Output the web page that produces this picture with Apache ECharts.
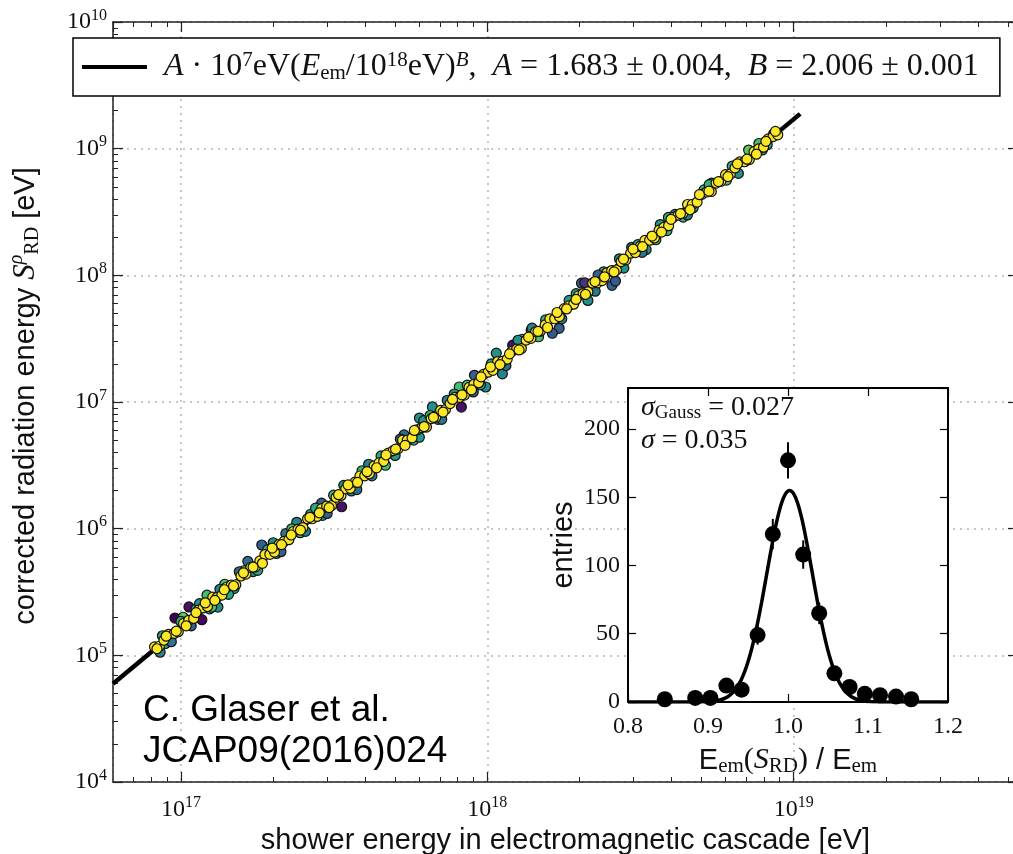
<!DOCTYPE html>
<html>
<head>
<meta charset="utf-8">
<title>Radiation energy vs. electromagnetic shower energy</title>
<script src="https://cdn.jsdelivr.net/npm/echarts@6.0.0/dist/echarts.min.js"></script>
<style>
  html, body { margin: 0; padding: 0; background: #fff; }
  #chart { width: 1013px; height: 854px; }
</style>
</head>
<body>
<div id="chart"></div>
<script>
// events that sit close to the fit (yellow), E in 1e18 eV, S in 1e7 eV
const coreE = [
  0.082, 0.085, 0.088, 0.091, 0.095, 0.098, 0.102, 0.106, 0.110, 0.114,
  0.118, 0.122, 0.127, 0.131, 0.136, 0.141, 0.146, 0.151, 0.157, 0.163,
  0.169, 0.175, 0.181, 0.188, 0.195, 0.202, 0.209, 0.217, 0.225, 0.233,
  0.241, 0.250, 0.259, 0.268, 0.278, 0.288, 0.299, 0.310, 0.321, 0.333,
  0.345, 0.357, 0.370, 0.384, 0.398, 0.412, 0.427, 0.443, 0.459, 0.475,
  0.493, 0.511, 0.529, 0.548, 0.568, 0.589, 0.611, 0.633, 0.656, 0.679,
  0.704, 0.730, 0.756, 0.784, 0.812, 0.842, 0.872, 0.904, 0.937, 0.971,
  1.006, 1.043, 1.081, 1.120, 1.161, 1.203, 1.247, 1.292, 1.339, 1.388,
  1.438, 1.490, 1.545, 1.601, 1.659, 1.719, 1.782, 1.847, 1.914, 1.983,
  2.055, 2.130, 2.207, 2.288, 2.371, 2.457, 2.546, 2.639, 2.735, 2.834,
  2.937, 3.044, 3.154, 3.269, 3.388, 3.511, 3.638, 3.770, 3.907, 4.049,
  4.196, 4.349, 4.507, 4.670, 4.840, 5.015, 5.198, 5.386, 5.582, 5.785,
  5.995, 6.212, 6.438, 6.671, 6.914, 7.165, 7.425, 7.694, 7.974, 8.263,
  8.563, 8.874,
  0.0835, 0.0895, 0.0965, 0.104, 0.112, 0.120, 0.129, 0.1385, 0.1485, 0.160,
  0.172, 0.1845, 0.1985, 0.213, 0.229, 0.2455, 0.2635, 0.283, 0.3045, 0.327,
  0.351, 0.377, 0.405, 0.435, 0.467, 0.502, 0.539, 0.578, 0.622, 0.6675,
  0.717, 0.770, 0.827, 0.888, 0.954, 1.0245, 1.1, 1.182, 1.2695, 1.3635,
  1.464, 1.573, 1.689, 1.8145, 1.9485, 2.0925, 2.2475, 2.414, 2.5925, 2.7845,
  2.9905, 3.2115, 3.4495, 3.704, 3.978, 4.2725, 4.5885, 4.9275, 5.292, 5.684,
  6.1035, 6.5545, 7.0395, 7.5595, 8.1185, 8.7185
];
const coreS = [
  0.01166, 0.01180, 0.01316, 0.01464, 0.01489, 0.01535, 0.01786, 0.01891, 0.01955, 0.02274,
  0.02366, 0.02430, 0.02878, 0.02859, 0.02988, 0.03446, 0.03587, 0.03607, 0.04231, 0.04383,
  0.04951, 0.04999, 0.05569, 0.06245, 0.06272, 0.06524, 0.07498, 0.07925, 0.08179, 0.09502,
  0.09873, 0.1020, 0.1197, 0.1197, 0.1249, 0.1438, 0.1505, 0.1520, 0.1769, 0.1829,
  0.2063, 0.2081, 0.2327, 0.2606, 0.2613, 0.2714, 0.3130, 0.3303, 0.3404, 0.3949,
  0.4131, 0.4263, 0.4993, 0.5003, 0.5213, 0.6014, 0.6283, 0.6339, 0.7388, 0.7604,
  0.8591, 0.8700, 0.9715, 1.086, 1.088, 1.134, 1.305, 1.375, 1.419, 1.650,
  1.720, 1.776, 2.085, 2.090, 2.178, 2.509, 2.617, 2.641, 3.078, 3.178,
  3.585, 3.624, 4.058, 4.530, 4.540, 4.725, 5.451, 5.741, 5.919, 6.883,
  7.179, 7.407, 8.690, 8.722, 9.083, 10.47, 10.91, 11.02, 12.84, 13.25,
  14.95, 15.13, 16.91, 18.88, 18.93, 19.71, 22.72, 23.92, 24.66, 28.70,
  29.93, 30.88, 36.24, 36.34, 37.85, 43.60, 45.47, 45.89, 53.49, 55.20,
  62.30, 63.00, 70.46, 78.64, 78.84, 82.08, 94.64, 99.63, 102.7, 119.5,
  124.6, 128.6,
  0.01127, 0.01416, 0.01552, 0.01711, 0.02175, 0.02593, 0.02717, 0.03293, 0.03526, 0.04481,
  0.04979, 0.05328, 0.07029, 0.07483, 0.08914, 0.09738, 0.1227, 0.1334, 0.1467, 0.1854,
  0.2219, 0.2320, 0.2816, 0.3025, 0.3817, 0.4241, 0.4547, 0.5960, 0.6381, 0.7574,
  0.8306, 1.048, 1.140, 1.247, 1.578, 1.890, 1.975, 2.398, 2.577, 3.254,
  3.607, 3.873, 5.089, 5.430, 6.454, 7.074, 8.926, 9.709, 10.63, 13.44,
  16.10, 16.84, 20.43, 21.94, 27.70, 30.72, 32.95, 43.32, 46.19, 54.92,
  60.19, 75.92, 82.57, 90.41, 114.3, 136.9
];

// events with a larger spread, coloured by a viridis value (0 purple .. 1 yellow)
const spreadE = [
  0.0956, 0.1062, 0.1836, 0.1653, 0.3346, 2.553, 2.62, 1.716, 0.0855, 0.1016,
  0.117, 0.1216, 0.132, 0.2388, 0.2878, 0.6005, 0.662, 0.81, 0.823, 0.908,
  0.988, 1.07, 1.12, 1.21, 1.391, 1.63, 1.4, 2.03, 2.08, 2.13,
  2.79, 2.96, 7.13, 7.5, 7.7, 6.6, 6.04, 5.4, 4.36, 3.67,
  3.3, 3.86,
  0.089, 0.112, 0.124, 0.139, 0.149, 0.16, 0.172, 0.192, 0.205, 0.22,
  0.245, 0.265, 0.29, 0.315, 0.36, 0.39, 0.42, 0.45, 0.5, 0.535,
  0.575, 0.62, 0.69, 0.74, 0.86, 0.95, 1.3, 1.47, 1.85, 2.25,
  2.4, 3.1, 3.55, 4.1, 4.7, 5.1, 8.2, 8.6,
  0.087, 0.093, 0.1, 0.108, 0.115, 0.126, 0.134, 0.143, 0.155, 0.178,
  0.2, 0.212, 0.23, 0.255, 0.275, 0.3, 0.34, 0.375, 0.41, 0.465,
  0.52, 0.6, 0.65, 0.71, 0.78, 0.9, 1.03, 1.15, 1.26, 1.55,
  1.75, 1.95, 2.3, 2.7, 3.2, 3.9, 4.5, 5.3, 6.3, 7.9
];
const spreadS = [
  0.01969, 0.02411, 0.07432, 0.05518, 0.1489, 8.337, 9.011, 3.816, 0.01058, 0.01998,
  0.01912, 0.02986, 0.02405, 0.1123, 0.1589, 0.7465, 0.9146, 1.314, 0.9120, 1.624,
  1.314, 2.428, 1.668, 2.809, 3.680, 3.488, 3.827, 8.669, 8.738, 6.338,
  11.40, 16.66, 97.54, 91.83, 109.8, 63.78, 56.49, 53.49, 28.79, 25.16,
  15.95, 22.57,
  0.01240, 0.02322, 0.02329, 0.03642, 0.03363, 0.04653, 0.04581, 0.06825, 0.06366, 0.09123,
  0.09294, 0.1300, 0.1274, 0.1837, 0.1985, 0.2867, 0.2613, 0.3749, 0.3787, 0.5492,
  0.5008, 0.7116, 0.7292, 1.032, 1.357, 1.367, 3.129, 3.273, 6.336, 7.498,
  10.66, 17.47, 19.09, 30.27, 34.20, 47.28, 107.5, 130.7,
  0.01427, 0.01281, 0.01851, 0.01708, 0.02560, 0.02405, 0.03324, 0.03029, 0.04569, 0.04693,
  0.07742, 0.06581, 0.09972, 0.09521, 0.1451, 0.1318, 0.2198, 0.2035, 0.3225, 0.3166,
  0.5097, 0.5271, 0.7822, 0.7296, 1.157, 1.200, 2.000, 1.936, 3.073, 4.448,
  4.536, 7.168, 10.06, 13.50, 15.17, 28.67, 29.99, 52.00, 72.81, 97.68
];
const spreadC = [
  0, 0.05, 0.3, 0.35, 0.05, 0.3, 0.28, 0.3, 0.45, 0.75,
  0.02, 0.7, 0.5, 0.45, 0.3, 0.5, 0.5, 0.7, 0.05, 0.3,
  0.5, 0.5, 0.45, 0.05, 0.25, 0.28, 0.45, 0.3, 0.15, 0.5,
  0.5, 0.3, 0.75, 0.55, 0.7, 0.5, 0.75, 0.2, 0.7, 0.55,
  0.5, 0.65,
  0.6, 0.65, 0.55, 0.7, 0.6, 0.75, 0.5, 0.65, 0.6, 0.4,
  0.7, 0.55, 0.6, 0.7, 0.5, 0.65, 0.4, 0.6, 0.55, 0.35,
  0.65, 0.5, 0.6, 0.45, 0.7, 0.55, 0.6, 0.7, 0.55, 0.4,
  0.65, 0.6, 0.7, 0.5, 0.6, 0.7, 0.6, 0.55,
  0.55, 0.4, 0.65, 0.3, 0.5, 0.7, 0.45, 0.6, 0.35, 0.6,
  0.5, 0.3, 0.7, 0.45, 0.6, 0.3, 0.55, 0.35, 0.45, 0.7,
  0.3, 0.55, 0.65, 0.4, 0.5, 0.3, 0.6, 0.35, 0.5, 0.65,
  0.45, 0.55, 0.3, 0.5, 0.4, 0.6, 0.45, 0.65, 0.6, 0.55
];

// fit A*1e7 eV (E/1e18 eV)^B, end points (1e18 eV / 1e7 eV)
const fitE = [0.06, 10.5];
const fitS = [0.00596, 188.2];

// inset: histogram of E_em(S_RD)/E_em
const histX = [0.846, 0.884, 0.903, 0.923, 0.942, 0.962, 0.981, 1.000, 1.019, 1.039, 1.058, 1.077, 1.096, 1.115, 1.135, 1.154];
const histY = [2, 3, 3, 12, 9, 49, 123, 177, 108, 65, 21, 11, 6, 5, 4, 2];
const histErr = [1.4, 1.7, 1.7, 3.5, 3, 7, 11.1, 13.3, 10.4, 8, 4.6, 3.3, 2.4, 2.2, 2, 1.4];
// gaussian fit curve
const gaussX = [0.8, 0.887, 0.892, 0.897, 0.902, 0.907, 0.912, 0.917, 0.922, 0.927, 0.932, 0.937,
  0.942, 0.947, 0.952, 0.957, 0.962, 0.967, 0.972, 0.977, 0.982, 0.987, 0.992, 0.997, 1.002,
  1.007, 1.012, 1.017, 1.022, 1.027, 1.032, 1.037, 1.042, 1.047, 1.052, 1.057, 1.062,
  1.067, 1.072, 1.077, 1.082, 1.087, 1.092, 1.097, 1.102, 1.107, 1.112, 1.117, 1.2];
const gaussY = [0, 0, 0.1, 0.18, 0.33, 0.6, 1.06, 1.81, 3.0, 4.86, 7.6, 11.5,
  16.9, 24.1, 33.3, 44.6, 57.9, 72.9, 89.1, 105.5, 121.2, 135.0, 145.8, 152.6, 155,
  152.6, 145.8, 135.0, 121.2, 105.5, 89.1, 72.9, 57.9, 44.6, 33.3, 24.1, 16.9,
  11.5, 7.6, 4.86, 3.0, 1.81, 1.06, 0.6, 0.33, 0.18, 0.1, 0, 0];

const viridis = ['#440154', '#482878', '#3e4989', '#31688e', '#26828e', '#1f9e89', '#35b779', '#6ece58', '#b5de2b', '#fde725'];

const xMin = 6e16, xMax = 5.4e19, yMin = 1e4, yMax = 1e10;

const chart = echarts.init(document.getElementById('chart'));

// minor tick positions 2..9 x 10^n (in log10 units)
function minorLogs(lo, hi) {
  const out = [];
  for (let d = Math.floor(lo); d <= Math.ceil(hi); d++) {
    for (let k = 2; k <= 9; k++) {
      const v = d + Math.log10(k);
      if (v > lo && v < hi) out.push(v);
    }
  }
  return out;
}

const serif = 'Liberation Serif';
const sans = 'Liberation Sans';
const ink = '#111';
const frameLine = { show: true, onZero: false, lineStyle: { color: '#222', width: 1.5 } };
const majorTick = { inside: true, length: 10, lineStyle: { color: '#222', width: 1.2 } };
const minorTick = { inside: true, length: 5, lineStyle: { color: '#222', width: 1 } };
const gridDots = { show: true, lineStyle: { color: '#b4b4b4', width: 1.5, type: [2, 5] } };
const powRich = {
  b: { fontFamily: serif, fontSize: 24, color: ink },
  s: { fontFamily: serif, fontSize: 16, color: ink, padding: [0, 0, 13, 0] }
};
const powLabel = v => '{b|10}{s|' + Math.round(Math.log10(v)) + '}';

const lx0 = Math.log10(xMin), lx1 = Math.log10(xMax), ly0 = Math.log10(yMin), ly1 = Math.log10(yMax);

// overlay axis that only carries minor ticks
function minorAxis(pos, lo, hi) {
  return {
    type: 'value', gridIndex: 0, position: pos, min: lo, max: hi,
    axisLine: { show: false, onZero: false },
    axisTick: Object.assign({ customValues: minorLogs(lo, hi) }, minorTick),
    axisLabel: { show: false }, splitLine: { show: false }
  };
}
// overlay log axis for the frame with major ticks only
function frameAxis(pos, lo, hi) {
  return {
    type: 'log', gridIndex: 0, position: pos, min: lo, max: hi,
    axisLine: frameLine, axisTick: majorTick, axisLabel: { show: false }, splitLine: { show: false }
  };
}

const insetTick = { inside: true, length: 8, lineStyle: { color: '#000', width: 1.2 } };
const insetLine = { show: true, onZero: false, lineStyle: { color: '#000', width: 2 } };

chart.setOption({
  animation: false,
  backgroundColor: '#fff',
  grid: [
    { left: 113, right: -5, top: 22, bottom: 72, outerBoundsMode: 'none', containLabel: false },
    { left: 628, top: 388, width: 320, height: 314, outerBoundsMode: 'none', containLabel: false,
      show: true, backgroundColor: '#fff', borderWidth: 0, z: 5 }
  ],
  legend: {
    data: [{ name: 'fit', icon: 'rect' }],
    left: 73, top: 38, z: 10,
    padding: [12, 21, 12, 9],
    itemWidth: 65, itemHeight: 4,
    backgroundColor: '#fff', borderColor: '#000', borderWidth: 1.5, borderRadius: 0,
    selectedMode: false,
    formatter: () => '{g| }{i|A}{r| · 10}{sp|7}{r|eV(}{i|E}{sb|em}{r|/10}{sp|18}{r|eV)}{spi|B}{r|,  }{i|A}{r| = 1.683 ± 0.004,  }{i|B}{r| = 2.006 ± 0.001}',
    textStyle: {
      rich: {
        g: { width: 12 },
        r: { fontFamily: serif, fontSize: 32, lineHeight: 34, color: ink },
        i: { fontFamily: serif, fontStyle: 'italic', fontSize: 32, lineHeight: 34, color: ink },
        sp: { fontFamily: serif, fontSize: 21, lineHeight: 21, color: ink, padding: [0, 0, 13, 0] },
        spi: { fontFamily: serif, fontStyle: 'italic', fontSize: 21, lineHeight: 21, color: ink, padding: [0, 0, 13, 0] },
        sb: { fontFamily: serif, fontSize: 21, lineHeight: 21, color: ink, padding: [13, 0, 0, 0] }
      }
    }
  },
  visualMap: {
    show: false, type: 'continuous', seriesIndex: 1, dimension: 2, min: 0, max: 1,
    inRange: { color: viridis }
  },
  xAxis: [
    {
      type: 'log', gridIndex: 0, position: 'bottom', min: xMin, max: xMax,
      axisLine: frameLine, axisTick: majorTick, splitLine: gridDots,
      axisLabel: { formatter: powLabel, rich: powRich, margin: 13, showMinLabel: false, showMaxLabel: false },
      name: 'shower energy in electromagnetic cascade [eV]', nameLocation: 'middle', nameGap: 42,
      nameTextStyle: { fontFamily: sans, fontSize: 29, color: ink }
    },
    minorAxis('bottom', lx0, lx1),
    frameAxis('top', xMin, xMax),
    minorAxis('top', lx0, lx1),
    {
      type: 'value', gridIndex: 1, position: 'bottom', min: 0.8, max: 1.2, interval: 0.1, z: 6,
      axisLine: insetLine, axisTick: insetTick, splitLine: { show: false },
      axisLabel: { formatter: v => v.toFixed(1), fontFamily: serif, fontSize: 24, color: ink, margin: 13 },
      name: '{e|E}{sb|em}{p|(}{it|S}{sb|RD}{p|)}{e| / E}{sb|em}', nameLocation: 'middle', nameGap: 42,
      nameTextStyle: {
        rich: {
          e: { fontFamily: sans, fontSize: 29, color: ink },
          p: { fontFamily: serif, fontSize: 30, color: ink },
          it: { fontFamily: serif, fontStyle: 'italic', fontSize: 30, color: ink },
          sb: { fontFamily: serif, fontSize: 21, color: ink, padding: [12, 0, 0, 0] }
        }
      }
    },
    {
      type: 'value', gridIndex: 1, position: 'top', min: 0.8, max: 1.2, interval: 0.1, z: 6,
      axisLine: insetLine, axisTick: insetTick, axisLabel: { show: false }, splitLine: { show: false }
    }
  ],
  yAxis: [
    {
      type: 'log', gridIndex: 0, position: 'left', min: yMin, max: yMax,
      axisLine: frameLine, axisTick: majorTick, splitLine: gridDots,
      axisLabel: { formatter: powLabel, rich: powRich, margin: 6 },
      name: '{t|corrected radiation energy }{s|S}{sp|ρ}{sb|RD}{t| [eV]}',
      nameLocation: 'middle', nameRotate: 90, nameGap: 68,
      nameTextStyle: {
        padding: [0, 0, 0, 12],
        rich: {
          t: { fontFamily: sans, fontSize: 29, color: ink },
          s: { fontFamily: serif, fontStyle: 'italic', fontSize: 31, color: ink },
          sp: { fontFamily: serif, fontStyle: 'italic', fontSize: 20, color: ink, padding: [0, 0, 18, 0] },
          sb: { fontFamily: serif, fontSize: 20, color: ink, padding: [14, 0, 0, 0] }
        }
      }
    },
    minorAxis('left', ly0, ly1),
    frameAxis('right', yMin, yMax),
    minorAxis('right', ly0, ly1),
    {
      type: 'value', gridIndex: 1, position: 'left', min: 0, max: 230, interval: 50, z: 6,
      axisLine: insetLine, axisTick: insetTick, splitLine: { show: false },
      axisLabel: { fontFamily: serif, fontSize: 24, color: ink, margin: 8, showMaxLabel: false },
      name: 'entries', nameLocation: 'middle', nameRotate: 90, nameGap: 50,
      nameTextStyle: { fontFamily: sans, fontSize: 29, color: ink }
    },
    {
      type: 'value', gridIndex: 1, position: 'right', min: 0, max: 230, interval: 50, z: 6,
      axisLine: insetLine, axisTick: insetTick, axisLabel: { show: false }, splitLine: { show: false }
    }
  ],
  series: [
    {
      name: 'fit', type: 'line', xAxisIndex: 0, yAxisIndex: 0,
      data: fitE.map((e, i) => [e * 1e18, fitS[i] * 1e7]),
      symbol: 'none', color: '#000', lineStyle: { color: '#000', width: 4.5 }, z: 2
    },
    {
      name: 'spread', type: 'scatter', xAxisIndex: 0, yAxisIndex: 0,
      data: spreadE.map((e, i) => [e * 1e18, spreadS[i] * 1e7, spreadC[i]]),
      symbolSize: 10, itemStyle: { borderColor: '#111', borderWidth: 1.2, opacity: 1 }, z: 3
    },
    {
      name: 'core', type: 'scatter', xAxisIndex: 0, yAxisIndex: 0,
      data: coreE.map((e, i) => [e * 1e18, coreS[i] * 1e7]),
      symbolSize: 10, itemStyle: { color: '#fde725', borderColor: '#111', borderWidth: 1.2, opacity: 1 }, z: 3
    },
    {
      name: 'errors', type: 'custom', xAxisIndex: 4, yAxisIndex: 4, z: 7,
      data: histX.map((x, i) => [x, histY[i], histErr[i]]),
      encode: { x: 0, y: 1 },
      renderItem: (params, api) => {
        const x = api.value(0), y = api.value(1), e = api.value(2);
        const a = api.coord([x, y + e]);
        const b = api.coord([x, Math.max(0, y - e)]);
        return { type: 'line', shape: { x1: a[0], y1: a[1], x2: b[0], y2: b[1] }, style: { stroke: '#000', lineWidth: 2 } };
      }
    },
    {
      name: 'gauss', type: 'line', xAxisIndex: 4, yAxisIndex: 4, z: 8,
      data: gaussX.map((x, i) => [x, gaussY[i]]),
      symbol: 'none', smooth: 0.3,
      lineStyle: { color: '#000', width: 3.5 }
    },
    {
      name: 'entries', type: 'scatter', xAxisIndex: 4, yAxisIndex: 4, z: 9,
      data: histX.map((x, i) => [x, histY[i]]),
      symbolSize: 16, itemStyle: { color: '#000', opacity: 1 }, clip: true
    }
  ],
  graphic: [
    {
      type: 'text', left: 143, top: 690, z: 20,
      style: { text: 'C. Glaser et al.\nJCAP09(2016)024', fontFamily: sans, fontSize: 37, lineHeight: 41, fill: '#000' }
    },
    {
      type: 'text', left: 641, top: 391, z: 20,
      style: {
        text: '{i|σ}{sb|Gauss}{r| = 0.027}\n{i|σ}{r| = 0.035}',
        lineHeight: 33,
        rich: {
          i: { fontFamily: serif, fontStyle: 'italic', fontSize: 28, fill: ink },
          r: { fontFamily: serif, fontSize: 28, fill: ink },
          sb: { fontFamily: serif, fontSize: 19, fill: ink, padding: [11, 0, 0, 0] }
        }
      }
    }
  ]
});
</script>
</body>
</html>
